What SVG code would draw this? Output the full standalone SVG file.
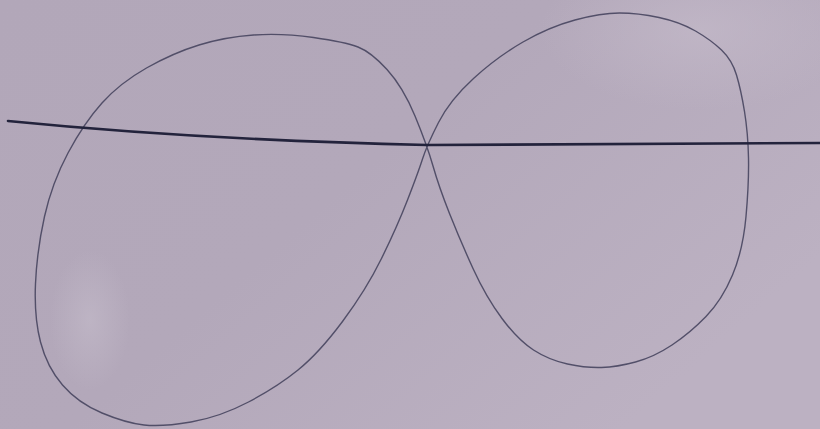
<svg xmlns="http://www.w3.org/2000/svg" width="820" height="429" viewBox="0 0 820 429">
  <defs>
    <linearGradient id="paper" x1="0" y1="0" x2="1" y2="0.6">
      <stop offset="0" stop-color="#b2a7b9"/>
      <stop offset="0.5" stop-color="#b3a8ba"/>
      <stop offset="1" stop-color="#bcb1c2"/>
    </linearGradient>
    <radialGradient id="spot" cx="0.5" cy="0.5" r="0.5">
      <stop offset="0" stop-color="#c2b9c8" stop-opacity="0.7"/>
      <stop offset="1" stop-color="#c2b9c8" stop-opacity="0"/>
    </radialGradient>
    <radialGradient id="glow" cx="0.5" cy="0.5" r="0.5">
      <stop offset="0" stop-color="#c6bccb" stop-opacity="0.6"/>
      <stop offset="1" stop-color="#c6bccb" stop-opacity="0"/>
    </radialGradient>
  </defs>
  <style>
    .curve { fill: none; stroke: #47455f; stroke-width: 1.4; stroke-linecap: round; stroke-linejoin: round; stroke-opacity: 0.9; }
    .axis { fill: none; stroke: #23233c; stroke-width: 2.6; stroke-linecap: round; }
  </style>
  <rect width="820" height="429" fill="url(#paper)"/>
  <ellipse cx="90" cy="320" rx="40" ry="70" fill="url(#spot)"/>
  <ellipse cx="700" cy="30" rx="160" ry="80" fill="url(#glow)"/>
  <g id="figure-eight">
    <path class="curve" d="M 438.5,122.5 Q 450,100 473.5,78.5 Q 497,57 523,42 Q 549,27 575,20 Q 601,13 619.5,13 Q 638,13 659,17.5 Q 680,22 695.5,31 Q 711,40 721.5,50 Q 732,60 736.5,75 Q 741,90 744.5,111.5 Q 748,133 748.5,158 Q 749,183 746,216.5 Q 743,250 732.5,275 Q 722,300 706,316.5 Q 690,333 672,345 Q 654,357 635.5,362 Q 617,367 601.5,367.5 Q 586,368 567.5,364 Q 549,360 533.5,350 Q 518,340 502,318.5 Q 486,297 473,268.5 Q 460,240 449.5,213.5 Q 439,187 433,166 Q 427,145 415,116 Q 403,87 387,69.5 Q 371,52 358,47 Q 345,42 313.5,37.5 Q 282,33 253.5,35 Q 225,37 199,45 Q 173,53 146.5,68 Q 120,83 102,103 Q 84,123 68,153 Q 52,183 44.5,216.5 Q 37,250 35.5,283.5 Q 34,317 40.5,342 Q 47,367 62.5,385 Q 78,403 102,413 Q 126,423 144,425 Q 162,427 191,422 Q 220,417 248.5,402 Q 277,387 298,370 Q 319,353 342.5,321.5 Q 366,290 381.5,258.5 Q 397,227 407.5,200 Q 418,173 422.5,159 Q 427,145 438.5,122.5 Z"/>
  </g>
  <g id="axis-line">
    <path class="axis" d="M 8,121 Q 200,140 427,145 L 820,143"/>
  </g>
</svg>
